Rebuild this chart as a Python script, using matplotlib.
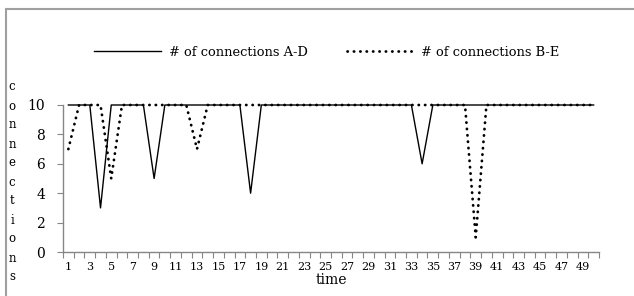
import matplotlib.pyplot as plt
from matplotlib.patches import Rectangle

time = list(range(1, 51))
conn_ad = [10, 10, 10, 3, 10, 10, 10, 10, 5, 10,
           10, 10, 10, 10, 10, 10, 10, 4, 10, 10,
           10, 10, 10, 10, 10, 10, 10, 10, 10, 10,
           10, 10, 10, 6, 10, 10, 10, 10, 10, 10,
           10, 10, 10, 10, 10, 10, 10, 10, 10, 10]
conn_be = [7, 10, 10, 10, 5, 10, 10, 10, 10, 10,
           10, 10, 7, 10, 10, 10, 10, 10, 10, 10,
           10, 10, 10, 10, 10, 10, 10, 10, 10, 10,
           10, 10, 10, 10, 10, 10, 10, 10, 1, 10,
           10, 10, 10, 10, 10, 10, 10, 10, 10, 10]
y_ticks = [0, 2, 4, 6, 8, 10]
x_labels = list(range(1, 51, 2))

plt.rcParams['font.family'] = ['DejaVu Serif']
axis_grey = '#868686'

fig = plt.figure(figsize=(6.34, 2.96), dpi=100)
fig.patches.append(Rectangle((6 / 634, -0.1), 1.2, 1 - 9 / 296 + 0.1,
                             transform=fig.transFigure, fill=False,
                             edgecolor='#a0a0a0', linewidth=1.5))

ax = fig.add_axes([63 / 634, 1 - 252 / 296, 536 / 634, 147 / 296])
ax.plot(time, conn_ad, color='black', linewidth=1.0, linestyle='-',
        label='# of connections A-D', clip_on=False)
ax.plot(time, conn_be, color='black', linewidth=2.0, linestyle=(0, (0.1, 2.2)),
        dash_capstyle='round', label='# of connections B-E', clip_on=False)

ax.set_xlim(0.5, 50.5)
ax.set_ylim(0, 10)
for s in ['top', 'right']:
    ax.spines[s].set_visible(False)
for s in ['left', 'bottom']:
    ax.spines[s].set_color(axis_grey)
    ax.spines[s].set_linewidth(1.0)

ax.set_yticks(y_ticks)
ax.tick_params(axis='y', length=4, color=axis_grey, pad=9, labelsize=10)
ax.set_xticks([t + 0.5 for t in range(0, 51)])
ax.set_xticklabels([])
ax.tick_params(axis='x', which='major', length=4, color=axis_grey)
ax.set_xticks(x_labels, minor=True)
ax.set_xticklabels([str(v) for v in x_labels], minor=True)
ax.tick_params(axis='x', which='minor', length=0, pad=7, labelsize=8)

ax.set_xlabel('time', fontsize=10, labelpad=1)
fig.text(12 / 634, 1 - 182 / 296, '\n'.join('connections'), ha='center',
         va='center', fontsize=8.5, linespacing=1.6, multialignment='center')

fig.legend(loc='center', bbox_to_anchor=(327 / 634, 1 - 52 / 296), ncol=2,
           frameon=False, fontsize=9.4, handlelength=5.1, handletextpad=0.6,
           columnspacing=3.0)

fig.savefig('out.png', dpi=100)
